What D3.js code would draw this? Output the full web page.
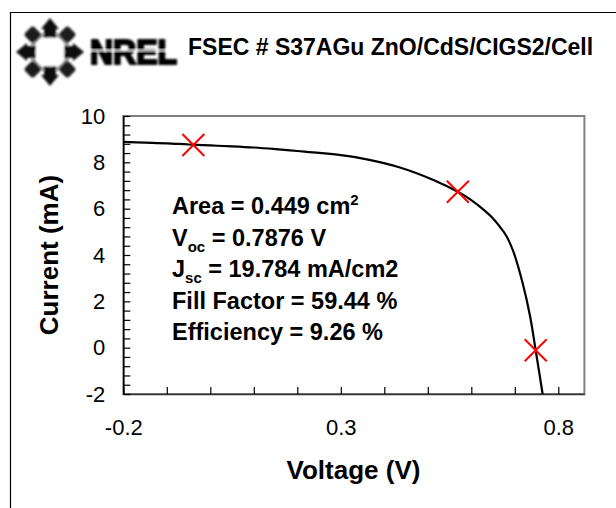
<!DOCTYPE html>
<html>
<head>
<meta charset="utf-8">
<script src="https://cdn.jsdelivr.net/npm/d3@7"></script>
<style>
  html, body { margin: 0; padding: 0; background: #fff; }
  svg { display: block; }
  text { font-family: "Liberation Sans", Arial, Helvetica, sans-serif; fill: #000; }
</style>
</head>
<body>
<svg id="chart" width="616" height="508"></svg>
<script>
// Measured I-V curve of the cell
const voltage = [-0.2, -0.15, -0.1, -0.05, 0.0, 0.05, 0.1, 0.15, 0.2, 0.25, 0.3, 0.36, 0.436, 0.513, 0.569,
                 0.6, 0.628, 0.65, 0.666, 0.68, 0.697, 0.718, 0.735, 0.748, 0.764];
const current = [8.88, 8.85, 8.82, 8.77, 8.73, 8.69, 8.64, 8.57, 8.49, 8.41, 8.31, 8.13, 7.78, 7.24, 6.73,
                 6.37, 5.96, 5.58, 5.21, 4.84, 4.13, 2.79, 1.37, -0.11, -2.0];

// Highlighted points on the curve
const markerV = [-0.039, 0.569, 0.748];
const markerI = [8.75, 6.73, -0.11];

// Axis ticks
const xMajorTicks = [-0.2, 0.3, 0.8];
const xMinorStep = 0.1;
const yMajorTicks = [-2, 0, 2, 4, 6, 8, 10];
const yMinorStep = 0.4;

// Cell parameters
const cellTitle = "FSEC # S37AGu ZnO/CdS/CIGS2/Cell";
const infoLines = [
  [["Area = 0.449 cm", "n"], ["2", "sup"]],
  [["V", "n"], ["oc", "sub"], [" = 0.7876 V", "n"]],
  [["J", "n"], ["sc", "sub"], [" = 19.784 mA/cm2", "n"]],
  [["Fill Factor = 59.44 %", "n"]],
  [["Efficiency = 9.26 %", "n"]]
];

const svg = d3.select("#chart");
const hyphen = s => s.replace("\u2212", "-");

// Outer frame (open to the right and bottom)
svg.append("path")
  .attr("d", "M10.5,508 L10.5,12.5 L616,12.5")
  .attr("fill", "none").attr("stroke", "#000").attr("stroke-width", 1.2);

// Logo: ring of arrows and blocks around a white disc, then the lettering
const defs = svg.append("defs");
defs.append("filter").attr("id", "soft")
  .append("feGaussianBlur").attr("stdDeviation", 0.8);
const logo = svg.append("g").attr("filter", "url(#soft)");
const ring = logo.append("g").attr("transform", "translate(50,52)");
ring.append("circle").attr("r", 18.5).attr("fill", "none")
  .attr("stroke", "#999").attr("stroke-width", 4);
[0, 90, 180, 270].forEach(a => {
  ring.append("polygon")
    .attr("points", "-6,-14 6,-14 6,-23 9,-23 0,-34 -9,-23 -6,-23")
    .attr("transform", `rotate(${a})`)
    .attr("fill", "#111");
});
[45, 135, 225, 315].forEach(a => {
  ring.append("rect")
    .attr("x", -6.5).attr("y", -31).attr("width", 13).attr("height", 13).attr("rx", 3)
    .attr("transform", `rotate(${a})`)
    .attr("fill", "#1a1a1a");
});
ring.append("circle").attr("r", 14.5).attr("fill", "#fff");
logo.append("text")
  .attr("x", 90).attr("y", 63.5)
  .attr("textLength", 87).attr("lengthAdjust", "spacingAndGlyphs")
  .style("font-size", "35px").style("font-weight", 900)
  .attr("stroke", "#000").attr("stroke-width", 2.2)
  .text("NREL");
logo.append("line").attr("x1", 88).attr("x2", 180).attr("y1", 50.5).attr("y2", 50.5)
  .attr("stroke", "#fff").attr("stroke-width", 1.2);

// Title
svg.append("text")
  .attr("x", 188).attr("y", 55)
  .style("font-size", "23px").style("font-weight", "bold")
  .text(cellTitle);

// Scales
const x = d3.scaleLinear().domain([-0.2, 0.86]).range([123.3, 584.4]);
const y = d3.scaleLinear().domain([-2, 10]).range([394, 116]);

// Plot area border
svg.append("rect")
  .attr("x", x.range()[0]).attr("y", y.range()[1])
  .attr("width", x.range()[1] - x.range()[0]).attr("height", y.range()[0] - y.range()[1])
  .attr("fill", "none").attr("stroke", "#808080").attr("stroke-width", 2);

// Axes with inward ticks
const near = (v, arr) => arr.some(t => Math.abs(t - v) < 1e-6);
const xTicks = d3.range(0, 11).map(i => +(-0.2 + i * xMinorStep).toFixed(2));
const yTicks = d3.range(0, 31).map(i => +(-2 + i * yMinorStep).toFixed(2));

const xAxis = d3.axisBottom(x)
  .tickValues(xTicks)
  .tickSizeInner(-7).tickSizeOuter(0).tickPadding(25)
  .tickFormat(v => near(v, xMajorTicks) ? hyphen(d3.format(".1f")(v)) : "");
const gx = svg.append("g").attr("transform", `translate(0,${y.range()[0]})`).call(xAxis);
gx.select(".domain").attr("stroke", "#333").attr("stroke-width", 1.5);
gx.selectAll(".tick line").attr("stroke", "#000").attr("stroke-width", 1.2);
gx.selectAll(".tick text").style("font-size", "22px").style("font-family", "'Liberation Sans', Arial, sans-serif");

const yAxis = d3.axisLeft(y)
  .tickValues(yTicks)
  .tickSizeInner(-7).tickSizeOuter(0).tickPadding(18)
  .tickFormat(v => near(v, yMajorTicks) ? hyphen(d3.format("d")(v)) : "");
const gy = svg.append("g").attr("transform", `translate(${x.range()[0]},0)`).call(yAxis);
gy.select(".domain").attr("stroke", "#000").attr("stroke-width", 1.5);
gy.selectAll(".tick line").attr("stroke", "#000").attr("stroke-width", 1.2);
gy.selectAll(".tick text").style("font-size", "22px").style("font-family", "'Liberation Sans', Arial, sans-serif");

// Axis titles
svg.append("text")
  .attr("x", 353.5).attr("y", 479)
  .attr("text-anchor", "middle")
  .style("font-size", "26px").style("font-weight", "bold")
  .text("Voltage (V)");
svg.append("text")
  .attr("transform", "translate(58,255) rotate(-90)")
  .attr("text-anchor", "middle")
  .style("font-size", "26px").style("font-weight", "bold")
  .text("Current (mA)");

// I-V curve
const pts = voltage.map((v, i) => [v, current[i]]);
svg.append("path")
  .datum(pts)
  .attr("d", d3.line().x(d => x(d[0])).y(d => y(d[1])).curve(d3.curveCatmullRom.alpha(0.5)))
  .attr("fill", "none").attr("stroke", "#000").attr("stroke-width", 2.2);

// Markers
const mk = svg.append("g");
markerV.forEach((v, i) => {
  const cx = x(v), cy = y(markerI[i]), s = 11;
  mk.append("path")
    .attr("d", `M${cx - s},${cy - s}L${cx + s},${cy + s}M${cx - s},${cy + s}L${cx + s},${cy - s}`)
    .attr("stroke", "#ff0000").attr("stroke-width", 2);
});

// Cell parameter block
const baselines = [214, 245.5, 277, 308.5, 340];
infoLines.forEach((parts, i) => {
  const t = svg.append("text")
    .attr("x", 172).attr("y", baselines[i])
    .style("font-size", "23.5px").style("font-weight", "bold");
  let shift = 0;
  parts.forEach(([s, kind]) => {
    const sp = t.append("tspan").text(s);
    let target = 0;
    if (kind === "sup") { sp.style("font-size", "15px"); target = -9; }
    if (kind === "sub") { sp.style("font-size", "15px"); target = 6; }
    sp.attr("dy", target - shift);
    shift = target;
  });
});
</script>
</body>
</html>
